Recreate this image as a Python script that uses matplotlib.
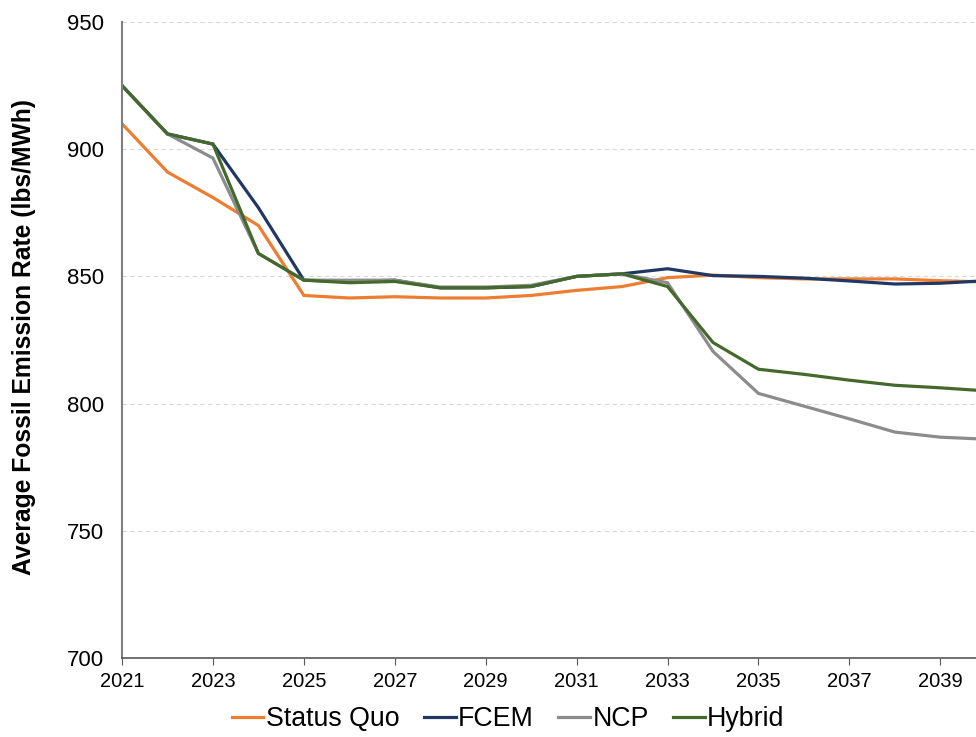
"""Average fossil emission rate by scenario, 2021-2040."""

import matplotlib
matplotlib.use('Agg')
import matplotlib.pyplot as plt

plt.rcParams['font.family'] = ['Liberation Sans', 'DejaVu Sans']

# Data (lbs/MWh)
years = list(range(2021, 2041))
status_quo = [910, 891, 881, 870, 842.5, 841.5, 842, 841.5, 841.5, 842.5,
              844.5, 846, 849.5, 850.5, 849.5, 849, 849, 849, 848.3, 847.8]
fcem = [925, 906, 902, 877, 848.5, 848, 848.5, 845.5, 845.5, 846,
        850, 851, 853, 850.3, 850, 849.3, 848.2, 847, 847.3, 848.3]
ncp = [925, 906, 896.5, 859, 848.5, 848.5, 848.5, 845.8, 845.8, 846.5,
       850, 851, 847.5, 820.5, 804, 799, 794, 788.8, 786.8, 786]
hybrid = [925, 906, 902, 859, 848.5, 847.5, 848, 845.5, 845.5, 846,
          850, 851, 846, 824, 813.5, 811.5, 809.2, 807.2, 806.2, 805]

series = [
    ('Status Quo', status_quo, '#ED7D31'),
    ('FCEM', fcem, '#203864'),
    ('NCP', ncp, '#8C8C8C'),
    ('Hybrid', hybrid, '#44692C'),
]

x_ticks = list(range(2021, 2041, 2))
y_ticks = [700, 750, 800, 850, 900, 950]

fig = plt.figure(figsize=(9.76, 7.37), dpi=100)
# axes runs past the right edge of the figure, as in the reference
ax = fig.add_axes([0.125, 0.1072, 0.885, 0.8630])

for name, values, color in series:
    ax.plot(years, values, color=color, lw=2.3, label=name,
            solid_joinstyle='miter')

ax.set_xlim(2021, 2040)
ax.set_ylim(700, 950)
ax.set_xticks(x_ticks)
ax.set_yticks(y_ticks)
ax.tick_params(axis='x', labelsize=14.5, length=5, color='#595959',
               direction='out', pad=5)
ax.tick_params(axis='y', labelsize=16, length=0, pad=13)
ax.grid(axis='y', color='#d9d9d9', ls=(0, (4, 3)), lw=0.8)
ax.set_axisbelow(True)

for side in ['top', 'right']:
    ax.spines[side].set_visible(False)
ax.spines['left'].set_color('#7f7f7f')
ax.spines['left'].set_linewidth(1.5)
ax.spines['bottom'].set_color('#595959')
ax.spines['bottom'].set_linewidth(1.2)

ax.set_ylabel('Average Fossil Emission Rate (lbs/MWh)', fontsize=17.7,
              fontweight='bold')
ax.yaxis.set_label_coords(-0.1, 0.505)

fig.legend(loc='center', bbox_to_anchor=(0.5205, 0.024), ncol=4,
           frameon=False, fontsize=19.3, handlelength=1.19,
           handletextpad=0.09, columnspacing=0.9)

fig.savefig('out.png', dpi=100)
plt.close(fig)
